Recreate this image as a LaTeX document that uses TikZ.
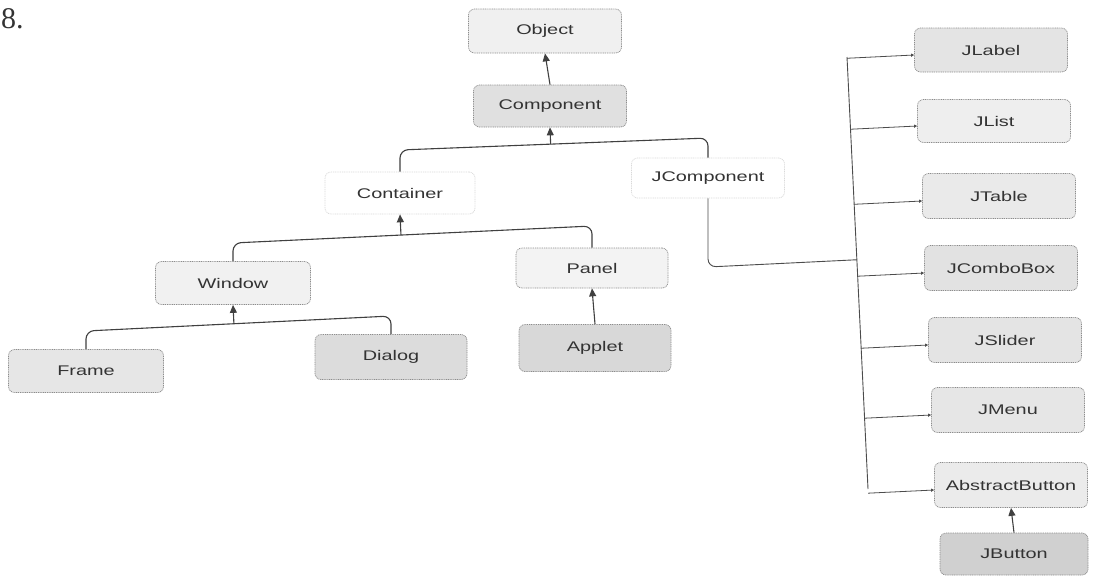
\documentclass[tikz,border=0pt]{standalone}
\usepackage{fontspec}
\newfontfamily\boxfont[FakeStretch=1.42]{Liberation Sans}
\newfontfamily\numfont{Liberation Serif}
\usetikzlibrary{arrows.meta,calc}
\definecolor{txt}{HTML}{333333}
\definecolor{cObject}{HTML}{F0F0F0}
\definecolor{cComponent}{HTML}{E0E0E0}
\definecolor{cWindow}{HTML}{F1F1F1}
\definecolor{cPanel}{HTML}{F3F3F3}
\definecolor{cFrame}{HTML}{E6E6E6}
\definecolor{cDialog}{HTML}{DCDCDC}
\definecolor{cApplet}{HTML}{D8D8D8}
\definecolor{cJLabel}{HTML}{E4E4E4}
\definecolor{cJList}{HTML}{EEEEEE}
\definecolor{cJTable}{HTML}{EAEAEA}
\definecolor{cJCombo}{HTML}{E2E2E2}
\definecolor{cJSlider}{HTML}{E4E4E4}
\definecolor{cJMenu}{HTML}{E6E6E6}
\definecolor{cAbs}{HTML}{EBEBEB}
\definecolor{cJButton}{HTML}{D0D0D0}
\begin{document}
\begin{tikzpicture}[x=1pt,y=-1pt,
  cls/.style={rounded corners=6pt, draw=black!45, dash pattern=on 1pt off 0.8pt,
    line width=0.7pt, minimum width=153pt, minimum height=44pt, inner sep=0pt,
    font=\boxfont\fontsize{14}{16}\selectfont, text=txt},
  faint/.style={cls, draw=black!15, fill=white},
  conn/.style={draw=black!75, line width=1.1pt},
  up/.style={conn, -{Triangle[length=8pt,width=7pt]}},
  bus/.style={conn, rounded corners=8pt},
  br/.style={draw=black!70, line width=0.8pt, -{Triangle[length=3pt,width=3pt]}},
]
\useasboundingbox (0,0) rectangle (1097,579);
\fill[white] (0,0) rectangle (1097,579);

\node[anchor=base west, inner sep=0pt, font=\numfont\fontsize{30}{32}\selectfont, text=black!80] (num) at (1,28) {8.};

% left tree
\node[cls, fill=cObject, minimum height=44pt] (obj) at (545,31) {Object};
\node[cls, fill=cComponent, minimum height=42pt] (comp) at (550,106) {Component};
\node[faint, minimum width=150pt, minimum height=42pt] (cont) at (400,193) {Container};
\node[faint, minimum height=40pt] (jcomp) at (708,178) {JComponent};
\node[cls, fill=cWindow, minimum width=155pt, minimum height=43pt] (win) at (233,283) {Window};
\node[cls, fill=cPanel, minimum width=152pt, minimum height=40pt] (panel) at (592,268) {Panel};
\node[cls, fill=cFrame, minimum width=155pt, minimum height=43pt] (frame) at (86,371) {Frame};
\node[cls, fill=cDialog, minimum width=152pt, minimum height=45pt] (dialog) at (391,357) {Dialog};
\node[cls, fill=cApplet, minimum width=152pt, minimum height=47pt] (applet) at (595,348) {Applet};

% right column
\node[cls, fill=cJLabel] (jlabel) at (991,50) {JLabel};
\node[cls, fill=cJList, minimum height=43pt] (jlist) at (994,121) {JList};
\node[cls, fill=cJTable, minimum height=45pt] (jtable) at (999,196) {JTable};
\node[cls, fill=cJCombo, minimum height=45pt] (jcombo) at (1001,268) {JComboBox};
\node[cls, fill=cJSlider, minimum height=45pt] (jslider) at (1005,340) {JSlider};
\node[cls, fill=cJMenu, minimum height=45pt] (jmenu) at (1008,410) {JMenu};
\node[cls, fill=cAbs, minimum height=45pt] (abs) at (1011,485) {AbstractButton};
\node[cls, fill=cJButton, minimum width=148pt, minimum height=42pt] (jbutton) at (1014,554) {JButton};

% buses
\coordinate (bL) at (400,150);
\coordinate (bR) at (708,138);
\draw[bus] (cont.north) -- (bL) -- (bR) -- (jcomp.north);
\draw[up] ($(bL)!(comp.south)!(bR)$) -- (comp.south);
\draw[up] (comp.north) -- (obj.south);

\coordinate (cL) at (233,243);
\coordinate (cR) at (592,226);
\draw[bus] (win.north) -- (cL) -- (cR) -- (panel.north);
\draw[up] ($(cL)!(cont.south)!(cR)$) -- (cont.south);

\coordinate (wL) at (86,331);
\coordinate (wR) at (391,316);
\draw[bus] (frame.north) -- (wL) -- (wR) -- (dialog.north);
\draw[up] ($(wL)!(win.south)!(wR)$) -- (win.south);

\draw[up] (applet.north) -- (panel.south);
\draw[up] (jbutton.north) -- (abs.south);

% trunk
\coordinate (t1) at (847,57);
\coordinate (t2) at (868,489);
\draw[draw=black!70, line width=0.9pt] (t1) -- (t2);
\coordinate (jcc) at (708,267);
\draw[bus, line width=0.9pt, draw=black!70] (jcomp.south) -- (jcc) -- ($(t1)!(jcc)!(t2)$);
\foreach \b in {jlabel,jlist,jtable,jcombo,jslider,jmenu,abs}{
  \draw[br] ($(t1)!([yshift=-5pt]\b.west)!(t2)$) -- ([yshift=-5pt]\b.west);
}
\end{tikzpicture}
\end{document}
